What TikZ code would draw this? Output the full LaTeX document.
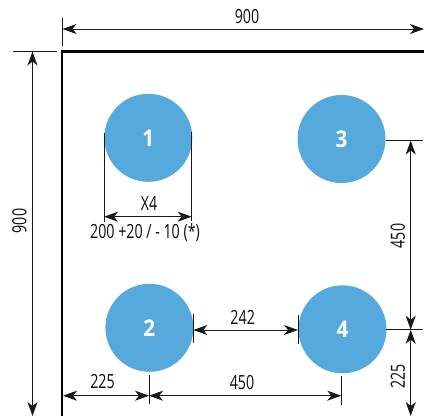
\documentclass[tikz,border=0pt]{standalone}
\usepackage{fontspec}
\setmainfont[FakeStretch=0.73]{Open Sans}
\newfontfamily\numfont[FakeStretch=0.9]{Open Sans}
\usetikzlibrary{arrows.meta}
\definecolor{holeblue}{HTML}{56A9DC}
\tikzset{
  x=1pt,y=-1pt,
  hole/.style={circle,fill=holeblue,draw=none,minimum size=#1,inner sep=0pt,text=white,font=\numfont\fontsize{23}{23}\selectfont\bfseries},
  hole/.default=88pt,
  frameline/.style={line width=2.5pt,line cap=butt},
  tick/.style={line width=1pt,black!90},
  dim/.style={line width=1pt,black!90,{Stealth[length=14pt,width=10pt,inset=4pt]}-{Stealth[length=14pt,width=10pt,inset=4pt]}},
  lab/.style={inner sep=0pt,text=black!95,font=\fontsize{19.5}{20}\selectfont},
}
\begin{document}
\begin{tikzpicture}
\useasboundingbox (0,0) rectangle (424,416);
% frame
\coordinate (ftr) at (424,51.5);
\coordinate (ftl) at (62,51.5);
\coordinate (fbl) at (62,416);
\draw[frameline] (ftr) -- (ftl) -- (fbl);
% holes
\node[hole] (h1) at (148.3,137.8) {1};
\node[hole] (h2) at (149.4,327.8) {2};
\node[hole] (h3) at (341.5,139) {3};
\node[hole] (h4) at (342.5,329.3) {4};
% top 900
\coordinate (t1) at (62,18); \coordinate (t2) at (62,46);
\draw[tick] (t1) -- (t2);
\coordinate (ta) at (62.5,29); \coordinate (tb) at (424,29);
\draw[dim] (ta) -- (tb);
\node[lab] (ltop) at (247,16.5) {900};
% left 900
\coordinate (l1) at (12.5,51); \coordinate (l2) at (57,51);
\draw[tick] (l1) -- (l2);
\coordinate (la) at (32.5,51.5); \coordinate (lb) at (32.5,416);
\draw[dim] (la) -- (lb);
\node[lab,rotate=90] (lleft) at (19.5,221) {900};
% X4
\coordinate (x1a) at (104,133); \coordinate (x1b) at (104,222);
\coordinate (x2a) at (191.7,132); \coordinate (x2b) at (191.7,221);
\draw[tick] (x1a) -- (x1b);
\draw[tick] (x2a) -- (x2b);
\coordinate (xa) at (104,216.7); \coordinate (xb) at (191.7,216.7);
\draw[dim] (xa) -- (xb);
\node[lab] (lx) at (149,203) {X4};
\node[lab] (ltol) at (145,233) {200 +20 / - 10 (*)};
% 242
\coordinate (g1a) at (193.3,314); \coordinate (g1b) at (193.3,343);
\coordinate (g2a) at (298,314.7); \coordinate (g2b) at (298,343.7);
\draw[tick] (g1a) -- (g1b);
\draw[tick] (g2a) -- (g2b);
\coordinate (ga) at (193.3,330); \coordinate (gb) at (298,330);
\draw[dim] (ga) -- (gb);
\node[lab] (lg) at (242.7,317) {242};
% bottom
\coordinate (b1a) at (149,375); \coordinate (b1b) at (149,404);
\coordinate (b2a) at (341.3,375.5); \coordinate (b2b) at (341.3,404.5);
\draw[tick] (b1a) -- (b1b);
\draw[tick] (b2a) -- (b2b);
\coordinate (ba) at (63,395.7); \coordinate (bb) at (149,395.7); \coordinate (bc) at (341.3,395.7);
\draw[dim] (ba) -- (bb);
\draw[dim] (bb) -- (bc);
\node[lab] (lb225) at (102.5,382) {225};
\node[lab] (lb450) at (242,383) {450};
% right
\coordinate (r1a) at (386,140.5); \coordinate (r1b) at (423,140.5);
\coordinate (r2a) at (386,329.7); \coordinate (r2b) at (423,329.7);
\draw[tick] (r1a) -- (r1b);
\draw[tick] (r2a) -- (r2b);
\coordinate (ra) at (410.7,140.5); \coordinate (rb) at (410.7,329.7); \coordinate (rc) at (410.7,416);
\draw[dim] (ra) -- (rb);
\draw[dim] (rb) -- (rc);
\node[lab,rotate=90] (lr450) at (398,236) {450};
\node[lab,rotate=90] (lr225) at (398,376.7) {225};
\end{tikzpicture}
\end{document}
